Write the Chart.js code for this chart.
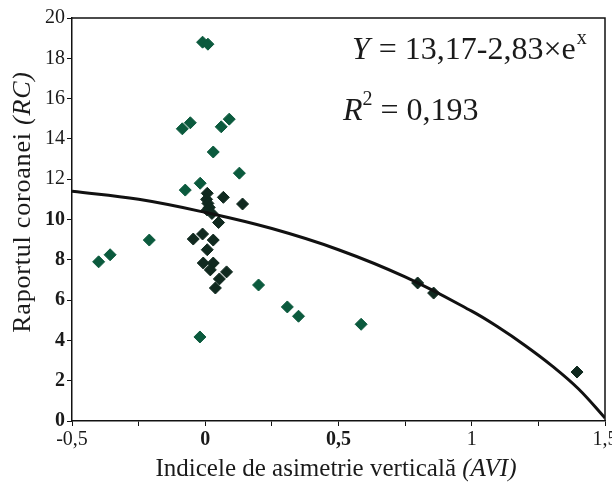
<!DOCTYPE html>
<html lang="ro">
<head>
  <meta charset="UTF-8" />
  <title>Raportul coroanei vs AVI</title>
  <script src="https://cdn.jsdelivr.net/npm/chart.js"></script>
  <style>
    body {
      margin: 0;
      padding: 0;
      background: #ffffff;
    }
    canvas {
      display: block;
    }
  </style>
</head>
<body>
  <canvas id="chart" width="612" height="482"></canvas>

  <script>
    // puncte verzi
    const greenX = [-0.01, 0.01, -0.086, -0.056, 0.06, 0.09, 0.03, 0.128, -0.075, -0.019, -0.40, -0.357, -0.21, 0.2, 0.308, 0.35, -0.02, 0.585];
    const greenY = [18.8, 18.7, 14.5, 14.8, 14.6, 14.98, 13.35, 12.3, 11.46, 11.8, 7.9, 8.25, 8.98, 6.75, 5.66, 5.2, 4.17, 4.8];

    // puncte inchise
    const darkX = [0.0075, 0.005, 0.068, 0.14, 0.01, 0.015, 0.0075, 0.025, 0.05, -0.045, -0.01, 0.03, 0.0075, -0.0075, 0.03, 0.019, 0.08, 0.053, 0.038, 0.797, 0.857, 1.395];
    const darkY = [11.3, 11.0, 11.1, 10.77, 10.8, 10.6, 10.47, 10.3, 9.85, 9.03, 9.28, 8.98, 8.5, 7.84, 7.84, 7.5, 7.4, 7.05, 6.6, 6.85, 6.35, 2.43];

    // curba de regresie
    const curveX = [-0.5, -0.25, 0, 0.25, 0.5, 0.75, 1.0, 1.1, 1.2, 1.3, 1.4, 1.5];
    const curveY = [11.4, 11.0, 10.35, 9.55, 8.5, 7.15, 5.45, 4.65, 3.75, 2.75, 1.6, 0.15];

    const xTicks = [-0.5, 0, 0.5, 1, 1.5];
    const xMinorTicks = [-0.5, -0.25, 0, 0.25, 0.5, 0.75, 1, 1.25, 1.5];

    const toPoints = (xs, ys) => xs.map((x, i) => ({ x: x, y: ys[i] }));
    const serif = "'Liberation Serif', 'Times New Roman', serif";

    // rama + textele (titluri de axe cu italic, ecuatia)
    const extras = {
      id: "extras",
      afterDraw(chart) {
        const ctx = chart.ctx;
        const a = chart.chartArea;
        ctx.save();
        ctx.strokeStyle = "#111";
        ctx.lineWidth = 1.5;
        ctx.beginPath();
        ctx.moveTo(a.left, a.top);
        ctx.lineTo(a.right, a.top);
        ctx.lineTo(a.right, a.bottom);
        ctx.stroke();

        ctx.fillStyle = "#1a1a1a";
        ctx.textBaseline = "alphabetic";

        // titlu axa X
        const xPart1 = "Indicele de asimetrie verticală ";
        const xPart2 = "(AVI)";
        ctx.font = "25px " + serif;
        const w1 = ctx.measureText(xPart1).width;
        ctx.font = "italic 25px " + serif;
        const w2 = ctx.measureText(xPart2).width;
        const sx = 336 - (w1 + w2) / 2;
        ctx.font = "25px " + serif;
        ctx.fillText(xPart1, sx, 476);
        ctx.font = "italic 25px " + serif;
        ctx.fillText(xPart2, sx + w1, 476);

        // titlu axa Y
        ctx.save();
        ctx.translate(30, 202);
        ctx.rotate(-Math.PI / 2);
        ctx.letterSpacing = "0.8px";
        const yPart1 = "Raportul coroanei ";
        const yPart2 = "(RC)";
        ctx.font = "26px " + serif;
        const v1 = ctx.measureText(yPart1).width;
        ctx.font = "italic 26px " + serif;
        const v2 = ctx.measureText(yPart2).width;
        const sy = -(v1 + v2) / 2;
        ctx.font = "26px " + serif;
        ctx.fillText(yPart1, sy, 0);
        ctx.font = "italic 26px " + serif;
        ctx.fillText(yPart2, sy + v1, 0);
        ctx.restore();

        // ecuatia
        let ex = 352;
        ctx.font = "italic 32px " + serif;
        ctx.fillText("Y", ex, 59);
        ex += ctx.measureText("Y").width + 1;
        ctx.font = "32px " + serif;
        const eq = " = 13,17-2,83×e";
        ctx.fillText(eq, ex, 59);
        ex += ctx.measureText(eq).width + 1;
        ctx.font = "20px " + serif;
        ctx.fillText("x", ex, 44);

        let rx = 343;
        ctx.font = "italic 32px " + serif;
        ctx.fillText("R", rx, 120);
        rx += ctx.measureText("R").width;
        ctx.font = "20px " + serif;
        ctx.fillText("2", rx, 105);
        rx += ctx.measureText("2").width;
        ctx.font = "32px " + serif;
        ctx.fillText(" = 0,193", rx, 120);
        ctx.restore();
      }
    };

    const ctx = document.getElementById("chart").getContext("2d");

    new Chart(ctx, {
      type: "scatter",
      data: {
        datasets: [
          {
            label: "curba",
            data: toPoints(curveX, curveY),
            showLine: true,
            borderColor: "#111",
            borderWidth: 3,
            pointRadius: 0,
            tension: 0.4,
          },
          {
            label: "verde",
            data: toPoints(greenX, greenY),
            pointStyle: "rectRot",
            pointRadius: 6,
            backgroundColor: "#0b5a3d",
            borderColor: "#0b5a3d",
            borderWidth: 1,
          },
          {
            label: "inchis",
            data: toPoints(darkX, darkY),
            pointStyle: "rectRot",
            pointRadius: 6,
            backgroundColor: "#10291f",
            borderColor: "#10291f",
            borderWidth: 1,
          },
        ],
      },
      options: {
        responsive: false,
        animation: false,
        layout: {
          padding: { top: 18, right: 7, left: 0, bottom: 0 },
        },
        plugins: {
          legend: { display: false },
          tooltip: { enabled: false },
        },
        scales: {
          x: {
            type: "linear",
            min: -0.5,
            max: 1.5,
            afterFit(scale) {
              scale.height = 61;
              scale.paddingLeft = 0;
              scale.paddingRight = 0;
            },
            afterBuildTicks(scale) {
              scale.ticks = xMinorTicks.map(v => ({ value: v }));
            },
            ticks: {
              color: "#1a1a1a",
              maxRotation: 0,
              padding: 2,
              font: (c) => ({
                family: serif,
                size: 20,
                weight: (c.tick && (c.tick.value === 0 || c.tick.value === 0.5)) ? "bold" : "normal",
              }),
              callback: (v) => xTicks.includes(v) ? String(v).replace(".", ",") : "",
            },
            grid: {
              drawOnChartArea: false,
              color: "#111",
              tickLength: 5,
            },
            border: { color: "#111", width: 1.5 },
          },
          y: {
            min: 0,
            max: 20,
            afterFit(scale) {
              scale.width = 72;
            },
            ticks: {
              stepSize: 2,
              color: "#1a1a1a",
              padding: 2,
              font: (c) => ({
                family: serif,
                size: 20,
                weight: (c.tick && c.tick.value <= 10) ? "bold" : "normal",
              }),
            },
            grid: {
              drawOnChartArea: false,
              color: "#111",
              tickLength: 5,
            },
            border: { color: "#111", width: 1.5 },
          },
        },
      },
      plugins: [extras],
    });
  </script>
</body>
</html>
